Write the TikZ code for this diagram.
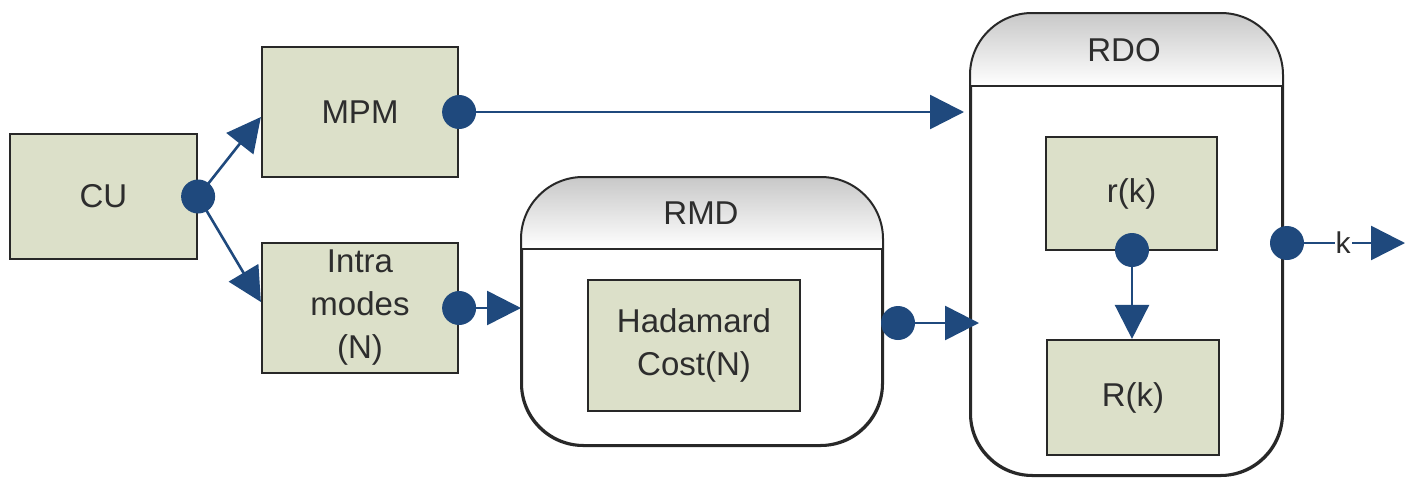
\documentclass[tikz,border=0pt]{standalone}
\usepackage{fontspec}
\setmainfont{Liberation Sans}
\usetikzlibrary{arrows.meta,calc}
\definecolor{boxfill}{RGB}{220,224,201}
\definecolor{dotblue}{RGB}{31,73,125}
\definecolor{txt}{RGB}{45,45,45}
\definecolor{edge}{RGB}{40,40,40}
\definecolor{hdrtop}{RGB}{200,200,200}
\tikzset{
  blk/.style={draw=edge, line width=2.2pt, fill=boxfill, text=txt, inner sep=0pt, align=center,
    font=\fontsize{33}{43}\selectfont},
  container/.style={draw=edge, line width=2pt, fill=white, rounded corners=62pt, inner sep=0pt},
  hdrtext/.style={text=txt, font=\fontsize{33}{43}\selectfont},
  conn/.style={draw=dotblue, line width=2.6pt, -{Triangle[length=34pt,width=34pt]}},
  plainconn/.style={draw=dotblue, line width=2.6pt},
  bdot/.style={circle, fill=dotblue, minimum size=34pt, inner sep=0pt},
}
\begin{document}
\begin{tikzpicture}[x=1pt,y=-1pt]
\useasboundingbox (0,0) rectangle (1410,477);

% containers
\node[container, minimum width=360pt, minimum height=267pt] (rmd) at (702,311.5) {};
\node[container, minimum width=311pt, minimum height=461pt] (rdo) at (1126.5,244.5) {};

% header shading
\begin{scope}
  \clip[rounded corners=62pt] (rmd.south west) rectangle (rmd.north east);
  \shade[top color=hdrtop, bottom color=white] (rmd.north west) rectangle ($(rmd.north east)+(0,72)$);
\end{scope}
\begin{scope}
  \clip[rounded corners=62pt] (rdo.south west) rectangle (rdo.north east);
  \shade[top color=hdrtop, bottom color=white] (rdo.north west) rectangle ($(rdo.north east)+(0,73)$);
\end{scope}
\draw[edge, line width=2pt, rounded corners=62pt] (rmd.south west) rectangle (rmd.north east);
\draw[edge, line width=2pt, rounded corners=62pt] (rdo.south west) rectangle (rdo.north east);
\draw[edge, line width=2pt] ($(rmd.north west)+(0,72)$) -- ($(rmd.north east)+(0,72)$);
\draw[edge, line width=2pt] ($(rdo.north west)+(0,73)$) -- ($(rdo.north east)+(0,73)$);
\node[hdrtext] (rmdlabel) at (701,213) {RMD};
\node[hdrtext] (rdolabel) at (1124,50) {RDO};

% blocks
\node[blk, minimum width=187pt, minimum height=125pt] (cu) at (103.5,196.5) {CU};
\node[blk, minimum width=196pt, minimum height=130pt] (mpm) at (360,112) {MPM};
\node[blk, minimum width=196pt, minimum height=130pt] (intra) at (360,308) {Intra\\modes\\(N)};
\node[blk, minimum width=212pt, minimum height=131pt] (had) at (694,345.5) {Hadamard\\Cost(N)};
\node[blk, minimum width=171pt, minimum height=113pt] (rk) at (1131.5,193.5) {r(k)};
\node[blk, minimum width=172pt, minimum height=115pt] (Rk) at (1133,397.5) {R(k)};

% dot positions
\coordinate (rmdout) at (898,323);
\coordinate (rdoout) at (1287,243);
\coordinate (kend) at (1405,243);
\coordinate (rkout) at (1132,250);

% connectors
\draw[conn] (cu.east) -- ($(mpm.west)+(0,5)$);
\draw[conn] (cu.east) -- ($(intra.west)+(0,-6)$);
\draw[conn, shorten >=6pt] (mpm.east) -- (mpm.east -| rdo.west);
\draw[conn] (intra.east) -- (intra.east -| rmd.west);
\draw[conn, shorten >=-9pt] (rmdout) -- (rmdout -| rdo.west);
\draw[conn] (rkout) -- (rkout |- Rk.north);
\draw[conn] (rdoout) -- (kend);
\node[fill=white, inner sep=1pt, text=txt, font=\fontsize{30}{36}\selectfont] (klabel) at (1343,243) {k};

% dots
\node[bdot] (d1) at (cu.east) {};
\node[bdot] (d2) at (mpm.east) {};
\node[bdot] (d3) at (intra.east) {};
\node[bdot] (d4) at (rmdout) {};
\node[bdot] (d5) at (rkout) {};
\node[bdot] (d6) at (rdoout) {};
\end{tikzpicture}
\end{document}
